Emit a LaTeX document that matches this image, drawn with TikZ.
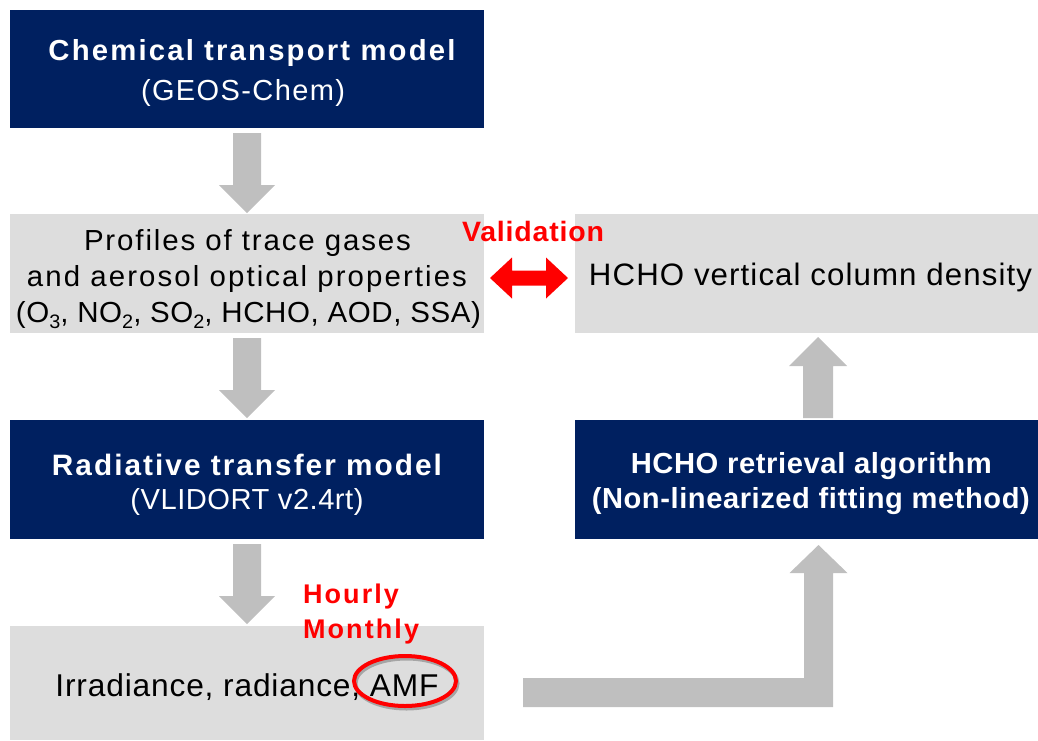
\documentclass[tikz,border=0pt]{standalone}
\usepackage{graphicx}
\usepackage{fontspec}
\setmainfont{Liberation Sans}
\usetikzlibrary{calc}
\definecolor{navy}{HTML}{002060}
\definecolor{boxgray}{HTML}{DDDDDD}
\definecolor{agray}{HTML}{BFBFBF}
\definecolor{vred}{HTML}{FF0000}
% width, size, letterspace, font switch, text
\newcommand\tx[5]{\resizebox{#1pt}{\height}{\fontsize{#2}{#2}#4\selectfont\addfontfeature{LetterSpace=#3}#5}}
\newcommand\sbs[1]{\raisebox{-6pt}{\fontsize{19.5}{19.5}\selectfont #1}}
\newcommand\dnarrow[2]{\fill[agray] let \p1=(#1), \p2=(#2) in
  (\x1-14pt,\y1) -- (\x1+14pt,\y1) -- (\x1+14pt,\y2+28pt) -- (\x1+28pt,\y2+28pt) -- (\x1,\y2) -- (\x1-28pt,\y2+28pt) -- (\x1-14pt,\y2+28pt) -- cycle;}
\newcommand\uparrowblk[2]{\fill[agray] let \p1=(#1), \p2=(#2) in
  (\x1-15pt,\y1) -- (\x1+15pt,\y1) -- (\x1+15pt,\y2-29pt) -- (\x1+29pt,\y2-29pt) -- (\x1,\y2) -- (\x1-29pt,\y2-29pt) -- (\x1-15pt,\y2-29pt) -- cycle;}
\tikzset{
  navybox/.style={fill=navy, draw=none, inner sep=0pt, outer sep=0pt},
  graybox/.style={fill=boxgray, draw=none, inner sep=0pt, outer sep=0pt},
  lbl/.style={anchor=base, inner sep=0pt, outer sep=0pt},
  wlbl/.style={lbl, text=white},
  rlbl/.style={anchor=base west, inner sep=0pt, outer sep=0pt, text=vred},
}
\begin{document}
\begin{tikzpicture}[x=1pt,y=-1pt]
\useasboundingbox (0,0) rectangle (1038,740);
% boxes
\node[navybox, minimum width=474pt, minimum height=118pt] (b1) at (247,69) {};
\node[graybox, minimum width=474pt, minimum height=119pt] (b2) at (247,273.5) {};
\node[navybox, minimum width=474pt, minimum height=119pt] (b3) at (247,479.5) {};
\node[graybox, minimum width=474pt, minimum height=114pt] (b4) at (247,683) {};
\node[graybox, minimum width=463pt, minimum height=119pt] (b5) at (806.5,273.5) {};
\node[navybox, minimum width=463pt, minimum height=119pt] (b6) at (806.5,479.5) {};
% texts
\node[wlbl] (t1) at (252,60.5) {\tx{407}{29}{7.4}{\bfseries}{Chemical transport model}};
\node[wlbl] (t2) at (243,100) {\tx{204}{29}{4.8}{}{(GEOS-Chem)}};
\node[lbl] (t3) at (247.5,250) {\tx{327}{29}{6.3}{}{Profiles of trace gases}};
\node[lbl] (t4) at (247,286) {\tx{440}{29}{7.1}{}{and aerosol optical properties}};
\node[lbl] (t5) at (248.5,322) {\tx{465}{29}{2}{}{(O\sbs{3}, NO\sbs{2}, SO\sbs{2}, HCHO, AOD, SSA)}};
\node[wlbl] (t6) at (247,475) {\tx{390}{29.5}{6.8}{\bfseries}{Radiative transfer model}};
\node[wlbl] (t7) at (247,509) {\tx{233}{29}{1.7}{}{(VLIDORT v2.4rt)}};
\node[lbl] (t8) at (247,696) {\tx{383}{31.5}{2.6}{}{Irradiance, radiance, AMF}};
\node[rlbl] (t9) at (303,603) {\tx{96}{27}{7.8}{\bfseries}{Hourly}};
\node[rlbl] (t10) at (303,638) {\tx{116}{27}{7.7}{\bfseries}{Monthly}};
\node[lbl, text=vred] (t11) at (533,241.7) {\tx{142}{28}{2.9}{\bfseries}{Validation}};
\node[lbl] (t12) at (810.5,285.7) {\tx{443}{31}{3.5}{}{HCHO vertical column density}};
\node[wlbl] (t13) at (811.3,473) {\tx{361}{29}{2}{\bfseries}{HCHO retrieval algorithm}};
\node[wlbl] (t14) at (810.8,508) {\tx{438}{29}{2}{\bfseries}{(Non-linearized fitting method)}};
% AMF ellipse with soft shadow
\draw[black, opacity=0.25, line width=4pt] (406.5,683.5) ellipse [x radius=51, y radius=25];
\draw[vred, line width=4pt] (405,681) ellipse [x radius=51, y radius=25];
% block arrows
\coordinate (a1s) at ($(b1.south)+(0,5)$);
\coordinate (a1e) at ($(b2.north)+(0,-1)$);
\coordinate (a2s) at ($(b2.south)+(0,5)$);
\coordinate (a2e) at ($(b3.north)+(0,-2)$);
\coordinate (a3s) at ($(b3.south)+(0,5)$);
\coordinate (a3e) at ($(b4.north)+(0,-2)$);
\coordinate (a4s) at ($(b6.north)+(11.5,-2)$);
\coordinate (a4e) at ($(b5.south)+(11.5,4)$);
\coordinate (e0) at (523,692.5);
\coordinate (a5e) at ($(b6.south)+(12,6)$);
\dnarrow{a1s}{a1e}
\dnarrow{a2s}{a2e}
\dnarrow{a3s}{a3e}
\uparrowblk{a4s}{a4e}
\fill[agray] let \p1=(e0), \p2=(a5e) in
  (\x1,\y1+14.5pt) -- (\x2-14.5pt,\y1+14.5pt) -- (\x2-14.5pt,\y2-28pt) -- (\x2-29pt,\y2-28pt) -- (\x2,\y2) -- (\x2+29pt,\y2-28pt) -- (\x2+14.5pt,\y2-28pt) -- (\x2+14.5pt,\y1-14.5pt) -- (\x1,\y1-14.5pt) -- cycle;
% validation double arrow
\coordinate (v1) at ($(b2.east)+(6,4.5)$);
\coordinate (v2) at ($(b5.west)+(-7,4.5)$);
\fill[vred] let \p1=(v1), \p2=(v2) in
  (\x1,\y1) -- (\x1+22pt,\y1+20.5pt) -- (\x1+22pt,\y1+7.5pt) -- (\x2-22pt,\y1+7.5pt) -- (\x2-22pt,\y1+20.5pt) -- (\x2,\y1) -- (\x2-22pt,\y1-20.5pt) -- (\x2-22pt,\y1-7.5pt) -- (\x1+22pt,\y1-7.5pt) -- (\x1+22pt,\y1-20.5pt) -- cycle;
\end{tikzpicture}
\end{document}
